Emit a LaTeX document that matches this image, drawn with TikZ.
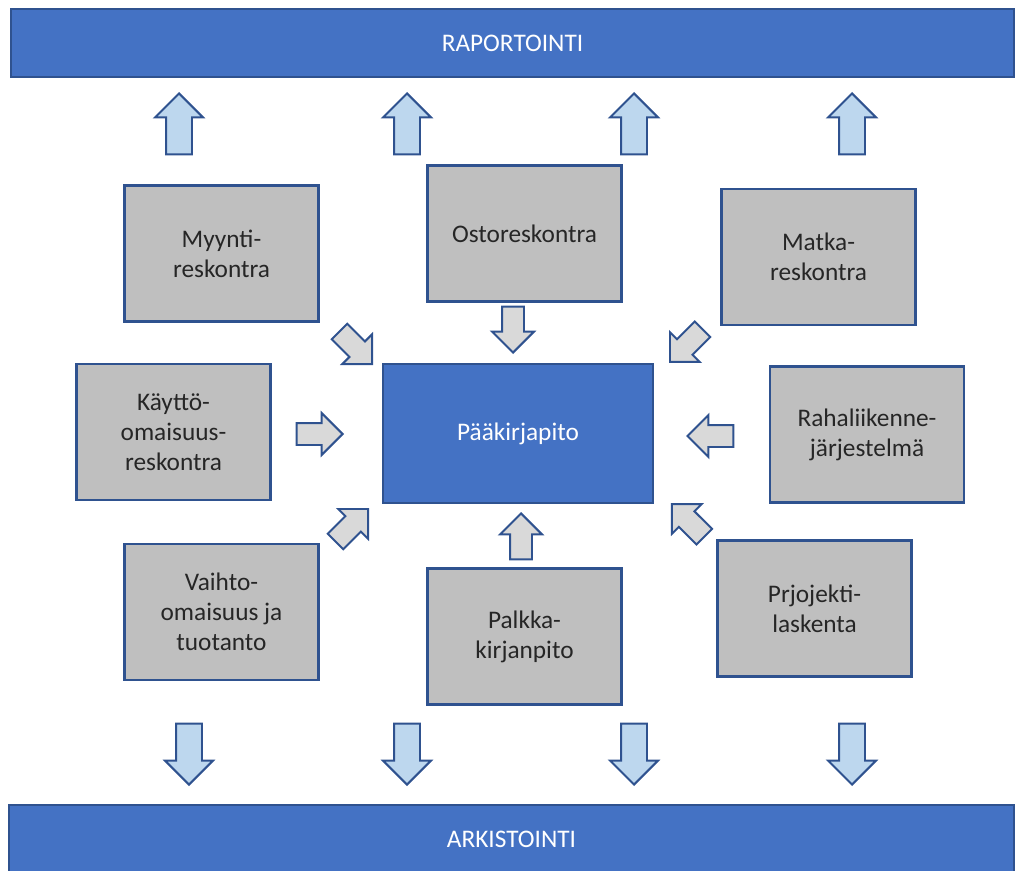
\documentclass[tikz,border=0pt]{standalone}
\usepackage{fontspec}
\setmainfont{Carlito}
\usetikzlibrary{shapes.arrows}

\definecolor{barblue}{HTML}{4472C4}
\definecolor{edgeblue}{HTML}{2F528F}
\definecolor{boxgray}{HTML}{BFBFBF}
\definecolor{arrowblue}{HTML}{BDD7EE}
\definecolor{arrowgray}{HTML}{D9D9D9}

\begin{document}
\begin{tikzpicture}[
    every node/.style={font=\fontsize{18}{21.3}\selectfont},
    barnode/.style={draw=edgeblue, fill=barblue, rectangle, line width=1.8pt,
        text=white, inner sep=0pt},
    boxnode/.style={draw=edgeblue, fill=boxgray, rectangle, line width=1.6pt,
        text=black!85, align=center, inner sep=0pt,
        minimum width=4.85cm, minimum height=3.4cm},
    mainnode/.style={boxnode, fill=barblue, text=white,
        minimum width=6.75cm, minimum height=3.475cm},
    bluearrow/.style={single arrow, draw=edgeblue, fill=arrowblue, line width=1.4pt,
        inner xsep=0pt, inner ysep=0.3cm, single arrow head extend=0.275cm,
        single arrow head indent=0pt, minimum height=1.525cm, anchor=tip},
    grayarrow/.style={single arrow, draw=edgeblue, fill=arrowgray, line width=1.4pt,
        inner xsep=0pt, inner ysep=0.25cm, single arrow head extend=0.25cm,
        single arrow head indent=0pt, minimum height=1.15cm, anchor=tip}
]
\useasboundingbox (0,0) rectangle (25.5,21.75);

% bars
\node[barnode, minimum width=25.075cm, minimum height=1.7cm] (raportointi)
    at (12.8125,20.675) {RAPORTOINTI};
\node[barnode, minimum width=25.125cm, minimum height=1.8cm] (arkistointi)
    at (12.7875,0.725) {\raisebox{0.9mm}{ARKISTOINTI}};

% ledgers
\node[mainnode] (paakirja) at (12.95,10.9125) {Pääkirjapito};
\node[boxnode] (myynti)  at (5.5375,15.4125) {Myynti-\\reskontra};
\node[boxnode] (osto)    at (13.1125,15.9125) {Ostoreskontra};
\node[boxnode] (matka)   at (20.4625,15.325) {Matka-\\reskontra};
\node[boxnode] (kaytto)  at (4.3375,10.95) {Käyttö-\\omaisuus-\\reskontra};
\node[boxnode] (raha)    at (21.675,10.8875) {Rahaliikenne-\\järjestelmä};
\node[boxnode] (vaihto)  at (5.5375,6.45) {Vaihto-\\omaisuus ja\\tuotanto};
\node[boxnode] (palkka)  at (13.1125,5.8375) {Palkka-\\kirjanpito};
\node[boxnode] (projekti) at (20.3625,6.5375) {Prjojekti-\\laskenta};

% arrows into the general ledger (placed by their tips)
\node[grayarrow, rotate=-45]  (myyntiin)   at (9.325,12.625) {};
\node[grayarrow, rotate=-90]  (ostoin)     at (12.825,12.9) {};
\node[grayarrow, rotate=-135] (matkain)    at (16.725,12.68) {};
\node[grayarrow]              (kayttoin)   at (8.6,10.9) {};
\node[grayarrow, rotate=180]  (rahain)     at (17.15,10.85) {};
\node[grayarrow, rotate=45]   (vaihtoin)   at (9.225,9.05) {};
\node[grayarrow, rotate=90]   (palkkain)   at (13.025,8.95) {};
\node[grayarrow, rotate=135]  (projektiin) at (16.77,9.17) {};

% reporting and archiving
\foreach \x [count=\i] in {4.475,10.175,15.85,21.3}
    \node[bluearrow, rotate=90] (rap\i) at (\x,19.45) {};
\foreach \x [count=\i] in {4.725,10.175,15.85,21.3}
    \node[bluearrow, rotate=-90] (ark\i) at (\x,2.1) {};
\end{tikzpicture}
\end{document}
